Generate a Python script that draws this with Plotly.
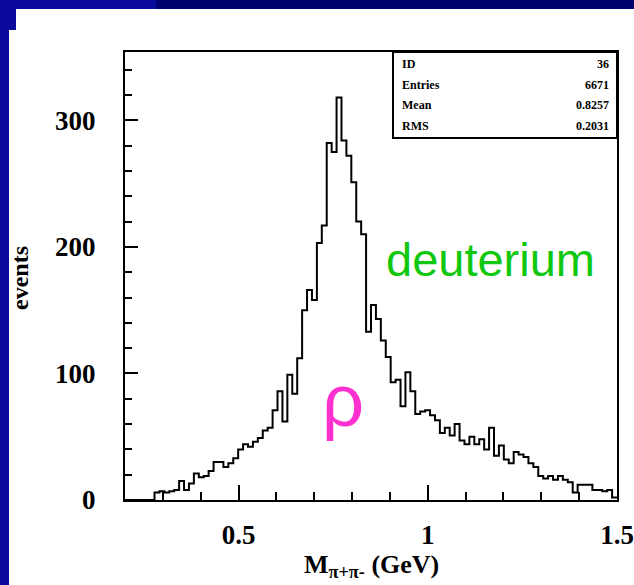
import plotly.graph_objects as go

# ---------------- data ----------------
x_min = 0.2
x_max = 1.5
n_bins = 100
counts = [
    0, 0, 0, 0, 0, 0, 6, 7, 6, 7,
    8, 15, 8, 13, 21, 18, 19, 23, 30, 30,
    26, 29, 33, 40, 44, 42, 46, 49, 55, 57,
    71, 86, 62, 99, 84, 112, 150, 166, 158, 203,
    217, 282, 275, 318, 284, 272, 251, 220, 210, 133,
    154, 143, 126, 113, 93, 95, 74, 101, 86, 68,
    70, 71, 67, 63, 53, 57, 51, 60, 47, 44,
    50, 44, 48, 40, 57, 35, 43, 32, 29, 38,
    36, 34, 29, 26, 19, 17, 19, 16, 19, 16,
    14, 6, 12, 12, 12, 8, 8, 7, 8, 2,
]
x_ticks = [0.5, 1.0, 1.5]
x_tick_labels = ["0.5", "1", "1.5"]
y_ticks = [0, 100, 200, 300]
y_tick_labels = ["0", "100", "200", "300"]
stat_labels = ["ID", "Entries", "Mean", "RMS"]
stat_values = ["36", "6671", "0.8257", "0.2031"]
x_title = "M<sub>π+π-</sub> (GeV)"
y_title = "events"
label_target = "deuterium"
label_particle = "ρ"

# ---------------- build ----------------
bw = (x_max - x_min) / n_bins
edges = [x_min + i * bw for i in range(n_bins + 1)]
step_y = counts + [counts[-1]]

fig = go.Figure()
fig.add_trace(go.Scatter(
    x=edges, y=step_y, mode="lines", line=dict(color="black", width=2, shape="hv"),
    hoverinfo="skip", showlegend=False,
))

W, H = 634, 585
ml, mr, mt, mb = 125, 17, 52, 85
pw, ph = W - ml - mr, H - mt - mb


def px(xp):
    return (xp - ml) / pw


def py(yp):
    return (H - mb - yp) / ph


serif = "Liberation Serif"
sans = "Liberation Sans"

shapes = []
navy_l = "#0a0a9c"
navy_r = "#00006e"
shapes.append(dict(type="rect", xref="paper", yref="paper", x0=px(0), x1=px(W), y0=py(9), y1=py(0),
                   fillcolor=navy_r, line=dict(width=0)))
shapes.append(dict(type="rect", xref="paper", yref="paper", x0=px(0), x1=px(156), y0=py(9), y1=py(0),
                   fillcolor=navy_l, line=dict(width=0)))
shapes.append(dict(type="rect", xref="paper", yref="paper", x0=px(0), x1=px(9), y0=py(H), y1=py(0),
                   fillcolor=navy_l, line=dict(width=0)))
shapes.append(dict(type="rect", xref="paper", yref="paper", x0=px(0), x1=px(16), y0=py(30), y1=py(0),
                   fillcolor=navy_l, line=dict(width=0)))
box_x0, box_y1 = px(393), py(138)
shapes.append(dict(type="rect", xref="paper", yref="paper", x0=box_x0, x1=1, y0=box_y1, y1=1,
                   fillcolor="rgba(0,0,0,0)", line=dict(color="black", width=2)))

annotations = []
row_y = [64, 85, 105, 126]
for lab, val, ry in zip(stat_labels, stat_values, row_y):
    annotations.append(dict(xref="paper", yref="paper", x=px(400), y=py(ry), text="<b>%s</b>" % lab,
                            showarrow=False, xanchor="left", yanchor="middle",
                            font=dict(family=serif, size=12, color="black")))
    annotations.append(dict(xref="paper", yref="paper", x=px(611), y=py(ry), text="<b>%s</b>" % val,
                            showarrow=False, xanchor="right", yanchor="middle",
                            font=dict(family=serif, size=12, color="black")))

annotations.append(dict(xref="paper", yref="paper", x=0.5, y=py(566), text="<b>%s</b>" % x_title,
                        showarrow=False, xanchor="center", yanchor="middle",
                        font=dict(family=serif, size=26, color="black")))
annotations.append(dict(xref="paper", yref="paper", x=px(20), y=py(278), text="<b>%s</b>" % y_title,
                        showarrow=False, xanchor="center", yanchor="middle", textangle=-90,
                        font=dict(family=serif, size=24, color="black")))
annotations.append(dict(xref="x", yref="y", x=1.165, y=190, text=label_target,
                        showarrow=False, xanchor="center", yanchor="middle",
                        font=dict(family=sans, size=47, color="#10c810")))
annotations.append(dict(xref="x", yref="y", x=0.777, y=79, text=label_particle,
                        showarrow=False, xanchor="center", yanchor="middle",
                        font=dict(family=sans, size=74, color="#ff30d0")))

tick_font = dict(family=serif, size=27, color="black", weight="bold")

fig.update_layout(
    width=W, height=H,
    margin=dict(l=ml, r=mr, t=mt, b=mb, pad=0, autoexpand=False),
    paper_bgcolor="white", plot_bgcolor="white",
    shapes=shapes, annotations=annotations,
    xaxis=dict(
        range=[x_min, x_max], tickmode="array", tickvals=x_ticks, ticktext=x_tick_labels,
        ticks="inside", ticklen=15, tickwidth=2, tickcolor="black",
        minor=dict(tickmode="linear", dtick=0.1, tick0=0.0, ticks="inside", ticklen=8,
                   tickwidth=2, tickcolor="black", showgrid=False),
        showline=True, linecolor="black", linewidth=2, mirror=True,
        showgrid=False, zeroline=False, automargin=False,
        tickfont=tick_font, ticklabelstandoff=10, ticklabeloverflow="allow",
    ),
    yaxis=dict(
        range=[0, 354], tickmode="array", tickvals=y_ticks, ticktext=y_tick_labels,
        ticks="inside", ticklen=13, tickwidth=2, tickcolor="black",
        minor=dict(tickmode="linear", dtick=20, tick0=0, ticks="inside", ticklen=7,
                   tickwidth=2, tickcolor="black", showgrid=False),
        showline=True, linecolor="black", linewidth=2, mirror=True,
        showgrid=False, zeroline=False, automargin=False,
        tickfont=tick_font, ticklabelstandoff=22, ticklabeloverflow="allow",
    ),
)

fig.write_html(
    "out.html", config={"displayModeBar": False},
    post_script=(
        "document.body.style.margin='0';"
        "document.body.style.overflow='hidden';"
        "document.documentElement.style.overflow='hidden';"
    ),
)
